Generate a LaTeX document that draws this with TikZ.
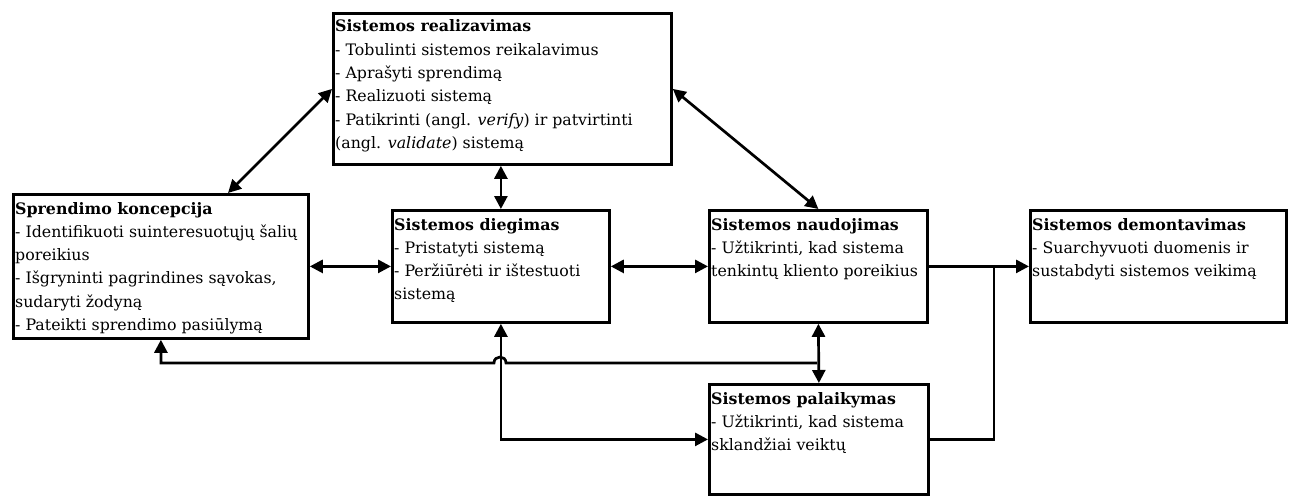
\documentclass[tikz,border=0pt]{standalone}
\usepackage{fontspec}
\setmainfont{DejaVu Serif}
\usetikzlibrary{arrows.meta,calc}
\tikzset{
  boxnode/.style={draw=black, line width=2.8pt, rectangle, inner sep=0pt, anchor=north west, fill=white},
  txtnode/.style={anchor=base west, inner sep=0pt},
  conn/.style={line width=2.7pt, line cap=butt},
  tip/.tip={Triangle[length=13pt,width=13pt]},
  oneway/.style={conn, -tip},
  twoway/.style={conn, tip-tip},
}
\newcommand{\boxtext}[2]{\parbox[t]{#1}{\fontsize{15.8}{23.3}\selectfont\raggedright #2}}
\begin{document}
\begin{tikzpicture}[x=1pt,y=-1pt]
\useasboundingbox (0,0) rectangle (1292,495);
% boxes
\node[boxnode, minimum width=338pt, minimum height=151pt] (real) at (332,12) {};
\node[boxnode, minimum width=295pt, minimum height=144pt] (sprend) at (12,193) {};
\node[boxnode, minimum width=217pt, minimum height=112pt] (dieg) at (391,209) {};
\node[boxnode, minimum width=218pt, minimum height=112pt] (naud) at (708,209) {};
\node[boxnode, minimum width=256pt, minimum height=112pt] (demont) at (1029,209) {};
\node[boxnode, minimum width=219pt, minimum height=110pt] (pal) at (708,383) {};
% texts
\node[txtnode] (realt) at (335,32) {\boxtext{330pt}{\textbf{Sistemos realizavimas}\\
- Tobulinti sistemos reikalavimus\\
- Aprašyti sprendimą\\
- Realizuoti sistemą\\
- Patikrinti (angl. \textit{verify}) ir patvirtinti\\
(angl. \textit{validate}) sistemą}};
\node[txtnode] (sprendt) at (15,214) {\boxtext{290pt}{\textbf{Sprendimo koncepcija}\\
- Identifikuoti suinteresuotųjų šalių\\
poreikius\\
- Išgryninti pagrindines sąvokas,\\
sudaryti žodyną\\
- Pateikti sprendimo pasiūlymą}};
\node[txtnode] (diegt) at (394,230) {\boxtext{212pt}{\textbf{Sistemos diegimas}\\
- Pristatyti sistemą\\
- Peržiūrėti ir ištestuoti\\
sistemą}};
\node[txtnode] (naudt) at (711,230) {\boxtext{214pt}{\textbf{Sistemos naudojimas}\\
- Užtikrinti, kad sistema\\
tenkintų kliento poreikius}};
\node[txtnode] (demontt) at (1032,230) {\boxtext{250pt}{\textbf{Sistemos demontavimas}\\
- Suarchyvuoti duomenis ir\\
sustabdyti sistemos veikimą}};
\node[txtnode] (palt) at (711,404) {\boxtext{214pt}{\textbf{Sistemos palaikymas}\\
- Užtikrinti, kad sistema\\
sklandžiai veiktų}};
% junction coordinates
\coordinate (j1) at (994,265);
\coordinate (j2) at (817,363);
% connectors
\draw[twoway] (real.west) -- ($(sprend.north west)+(216,0)$);
\draw[twoway] (real.east) -- (naud.north);
\draw[twoway] (real.south -| dieg.north) -- (dieg.north);
\draw[twoway] (sprend.east) -- (dieg.west);
\draw[twoway] (dieg.east) -- (naud.west);
\draw[oneway] (naud.east) -- (demont.west);
\draw[conn] (pal.east) -| (j1);
\draw[twoway] (naud.south) -- (pal.north);
\draw[oneway] (j2) -- (506,363) .. controls (506,355) and (494,355) .. (494,363) -- (sprend.south |- j2) -- (sprend.south);
\draw[twoway] (dieg.south) -- (dieg.south |- pal.west) -- (pal.west);
\end{tikzpicture}
\end{document}
